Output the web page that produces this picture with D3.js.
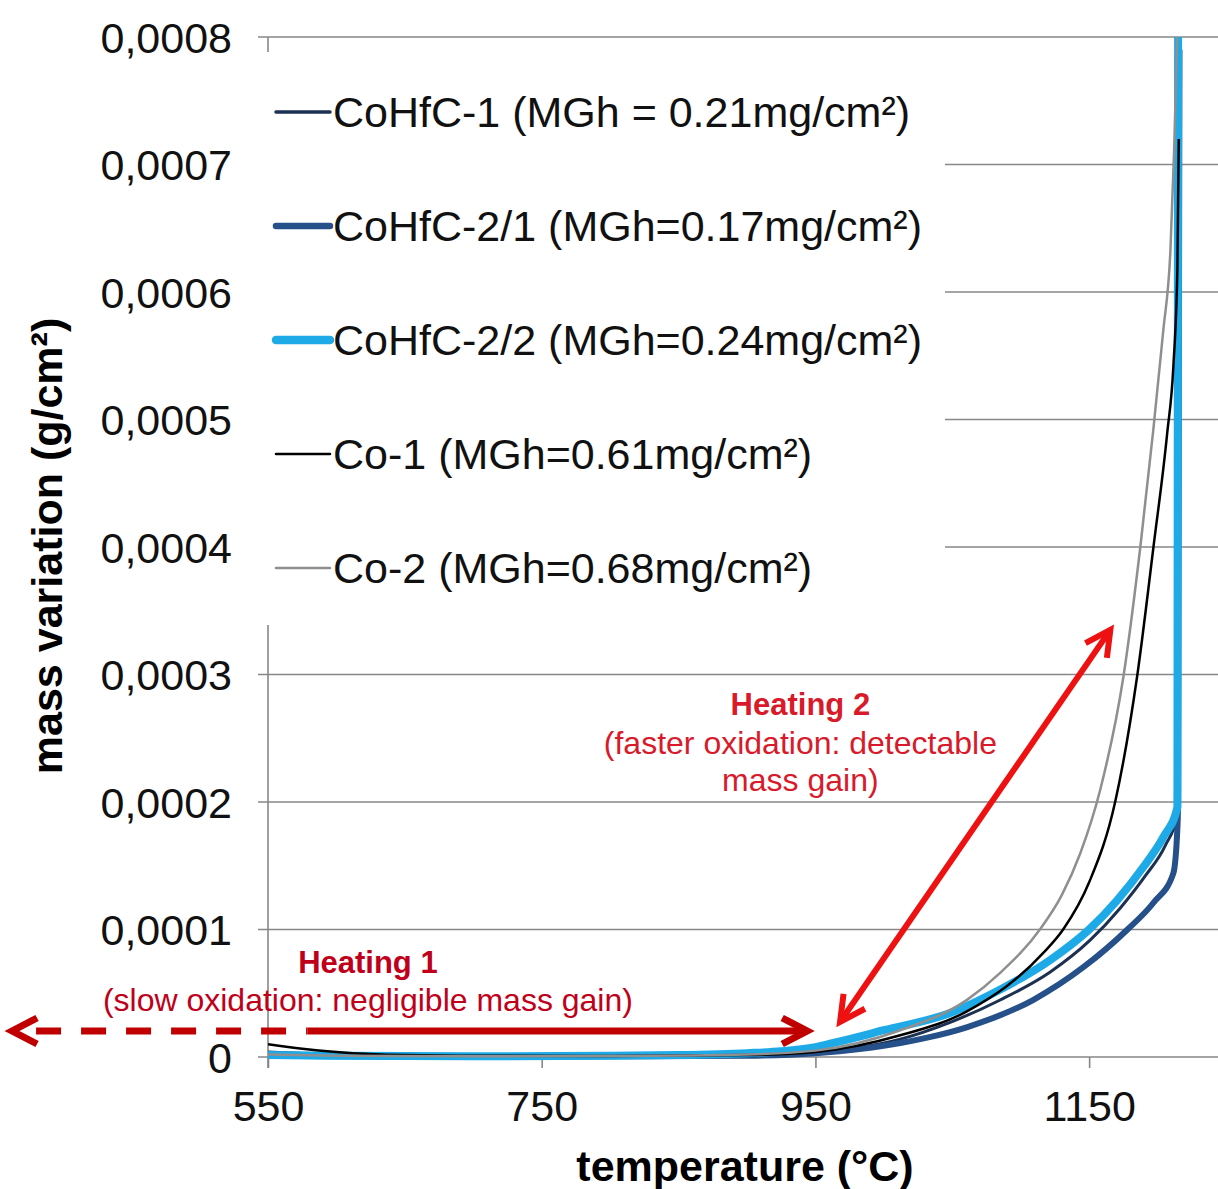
<!DOCTYPE html>
<html>
<head>
<meta charset="utf-8">
<script src="https://cdn.jsdelivr.net/npm/d3@7"></script>
<style>
  body { margin: 0; background: #fff; }
  svg { display: block; }
  text { font-family: "Liberation Sans", Arial, Helvetica, sans-serif; }
</style>
</head>
<body>
<svg id="chart" width="1218" height="1189"></svg>
<script>
// ---- data: mass variation (g/cm²) vs temperature (°C) ----
const seriesNames = [
  "CoHfC-1 (MGh = 0.21mg/cm²)",
  "CoHfC-2/1 (MGh=0.17mg/cm²)",
  "CoHfC-2/2 (MGh=0.24mg/cm²)",
  "Co-1 (MGh=0.61mg/cm²)",
  "Co-2 (MGh=0.68mg/cm²)"
];

const coHfC1Temp = [550, 600, 700, 800, 900, 950, 1012, 1048, 1085, 1121.6, 1150.9, 1172.8, 1191, 1205.7, 1214.5, 1215.5];
const coHfC1Mass = [0.000004, 0.000002, 0.000001, 0.0000008, 0.0000015, 0.000004, 0.000014, 0.000027, 0.0000447, 0.0000667, 0.0000918, 0.0001169, 0.000142, 0.000166, 0.00019, 0.00069];

const coHfC21Temp = [550, 600, 700, 800, 900, 950, 1012, 1061, 1109, 1146, 1178, 1197, 1211.5, 1214.5, 1215, 1216];
const coHfC21Mass = [0.000001, 0.0000005, 0.0000002, 0.0000005, 0.000001, 0.000003, 0.000011, 0.0000235, 0.0000447, 0.0000706, 0.0001, 0.000121, 0.000144, 0.00018, 0.0002, 0.00079];

const coHfC22Temp = [550, 600, 700, 800, 850, 900, 925, 950, 963, 1000, 1048.5, 1085.1, 1121.6, 1150, 1170.6, 1189.6, 1204.2, 1214.5, 1215];
const coHfC22Mass = [0.0000015, 0.000001, 0.0000005, 0.000001, 0.0000015, 0.000003, 0.0000045, 0.0000078, 0.000011, 0.000021, 0.0000345, 0.0000529, 0.0000761, 0.0001, 0.0001231, 0.000149, 0.0001725, 0.000196, 0.0008];

const co1Temp = [550, 575, 600, 650, 700, 800, 900, 950, 1012, 1061, 1116.5, 1131, 1150, 1169, 1185, 1197, 1207, 1211.5, 1214.5, 1215.5];
const co1Mass = [0.00001, 0.0000065, 0.000004, 0.0000015, 0.000001, 0.0000008, 0.0000015, 0.000004, 0.000017, 0.000036, 0.0000816, 0.0001, 0.000137, 0.0002, 0.000298, 0.0004, 0.000489, 0.000541, 0.00062, 0.00072];

const co2Temp = [550, 600, 700, 800, 900, 950, 1012, 1061, 1085, 1114, 1130, 1143.6, 1158.2, 1175, 1187.4, 1196.9, 1204.2, 1209.4, 1212.1, 1214.3];
const co2Mass = [0.000002, 0.000001, 0.0000005, 0.0000008, 0.000002, 0.000005, 0.000021, 0.000045, 0.000066, 0.0001, 0.000127, 0.00016, 0.00021, 0.000298, 0.0004, 0.000492, 0.00057, 0.000633, 0.000711, 0.0008];

const xTickValues = [550, 750, 950, 1150];
const yTickValues = [0, 0.0001, 0.0002, 0.0003, 0.0004, 0.0005, 0.0006, 0.0007, 0.0008];
const yTickLabels = ["0", "0,0001", "0,0002", "0,0003", "0,0004", "0,0005", "0,0006", "0,0007", "0,0008"];

// ---- layout ----
const svg = d3.select("#chart");
const W = 1218, H = 1189;
const plot = { left: 268, top: 37, right: 1226, bottom: 1057 };

const x = d3.scaleLinear().domain([550, 1250]).range([plot.left, plot.right]);
const y = d3.scaleLinear().domain([0, 0.0008]).range([plot.bottom, plot.top]);

const styles = [
  { color: "#1c3052", width: 3,   legendWidth: 3.5 },
  { color: "#25508a", width: 6,   legendWidth: 6.5 },
  { color: "#1eaae6", width: 8,   legendWidth: 8.5 },
  { color: "#000000", width: 2.5, legendWidth: 2.5 },
  { color: "#8f8f8f", width: 2.5, legendWidth: 2.5 }
];

const series = [
  [coHfC1Temp, coHfC1Mass],
  [coHfC21Temp, coHfC21Mass],
  [coHfC22Temp, coHfC22Mass],
  [co1Temp, co1Mass],
  [co2Temp, co2Mass]
].map(([t, m], i) => ({
  name: seriesNames[i],
  style: styles[i],
  points: t.map((tv, j) => ({ t: tv, v: m[j] }))
}));

// ---- gridlines ----
const gridColor = "#878787";
svg.append("g").selectAll("line").data(yTickValues).join("line")
  .attr("x1", plot.left - 10).attr("x2", W)
  .attr("y1", d => y(d)).attr("y2", d => y(d))
  .attr("stroke", gridColor).attr("stroke-width", 1.6);

// ---- y axis ----
const yAxis = d3.axisLeft(y)
  .tickValues(yTickValues)
  .tickFormat((d, i) => yTickLabels[i])
  .tickSize(0)
  .tickPadding(36);
const yAxisG = svg.append("g").attr("transform", `translate(${plot.left},0)`).call(yAxis);
yAxisG.select(".domain").remove();
yAxisG.selectAll("text")
  .attr("font-size", 43).attr("fill", "#111")
  .attr("dy", null).attr("dominant-baseline", "central");
svg.append("line")
  .attr("x1", plot.left).attr("x2", plot.left)
  .attr("y1", plot.top).attr("y2", plot.bottom + 11)
  .attr("stroke", gridColor).attr("stroke-width", 1.6);

// ---- x axis ----
const xAxis = d3.axisBottom(x)
  .tickValues(xTickValues)
  .tickFormat(d3.format("d"))
  .tickSizeInner(11).tickSizeOuter(0)
  .tickPadding(22);
const xAxisG = svg.append("g").attr("transform", `translate(0,${plot.bottom})`).call(xAxis);
xAxisG.select(".domain").remove();
xAxisG.selectAll(".tick line").attr("stroke", gridColor).attr("stroke-width", 1.6);
xAxisG.selectAll("text").attr("font-size", 43).attr("fill", "#111");

// ---- axis titles ----
svg.append("text")
  .attr("transform", `translate(62,546) rotate(-90)`)
  .attr("text-anchor", "middle")
  .attr("font-size", 43).attr("font-weight", "bold").attr("fill", "#000")
  .text("mass variation (g/cm²)");

svg.append("text")
  .attr("x", 745).attr("y", 1181)
  .attr("text-anchor", "middle")
  .attr("font-size", 43).attr("font-weight", "bold").attr("fill", "#000")
  .text("temperature (°C)");

// ---- legend ----
const legend = svg.append("g");
legend.append("rect")
  .attr("x", 245).attr("y", 52).attr("width", 700).attr("height", 573)
  .attr("fill", "#fff");
const legendItems = legend.selectAll("g.item").data(series).join("g")
  .attr("class", "item")
  .attr("transform", (d, i) => `translate(0,${112 + i * 114})`);
legendItems.append("line")
  .attr("x1", 276).attr("x2", 330).attr("y1", 0).attr("y2", 0)
  .attr("stroke", d => d.style.color)
  .attr("stroke-width", d => d.style.legendWidth)
  .attr("stroke-linecap", "round");
legendItems.append("text")
  .attr("x", 333).attr("y", 0)
  .attr("dominant-baseline", "central")
  .attr("font-size", 43).attr("fill", "#111")
  .text(d => d.name);

// ---- curves ----
svg.append("clipPath").attr("id", "plotClip")
  .append("rect")
  .attr("x", plot.left).attr("y", plot.top - 2)
  .attr("width", W - plot.left).attr("height", plot.bottom - plot.top + 10);

const line = d3.line()
  .x(d => x(d.t))
  .y(d => y(d.v))
  .curve(d3.curveMonotoneX);

svg.append("g").attr("clip-path", "url(#plotClip)")
  .selectAll("path").data(series).join("path")
  .attr("d", d => line(d.points))
  .attr("fill", "none")
  .attr("stroke", d => d.style.color)
  .attr("stroke-width", d => d.style.width)
  .attr("stroke-linejoin", "round");

// ---- annotations ----
function chevron(g, tip, from, color, width) {
  const dx = tip[0] - from[0], dy = tip[1] - from[1];
  const len = Math.hypot(dx, dy);
  const ux = dx / len, uy = dy / len;
  const bx = tip[0] - 25 * ux, by = tip[1] - 25 * uy;
  const px = -uy * 13, py = ux * 13;
  g.append("polyline")
    .attr("points", `${bx + px},${by + py} ${tip[0]},${tip[1]} ${bx - px},${by - py}`)
    .attr("fill", "none").attr("stroke", color).attr("stroke-width", width)
    .attr("stroke-linejoin", "miter").attr("stroke-linecap", "butt");
}

const ann = svg.append("g");

// Heating 1: dashed outside the measured range, solid inside
const h1Color = "#c00000";
const h1Level = 0.0000204;
const h1Left = [x(363), y(h1Level)];
const h1Mid = [x(579), y(h1Level)];
const h1Right = [x(944), y(h1Level)];
ann.append("line")
  .attr("x1", h1Left[0] + 24).attr("x2", h1Mid[0]).attr("y1", h1Left[1]).attr("y2", h1Mid[1])
  .attr("stroke", h1Color).attr("stroke-width", 7).attr("stroke-dasharray", "25 20");
ann.append("line")
  .attr("x1", h1Mid[0]).attr("x2", h1Right[0] - 3).attr("y1", h1Mid[1]).attr("y2", h1Right[1])
  .attr("stroke", h1Color).attr("stroke-width", 7);
chevron(ann, h1Right, h1Left, h1Color, 7);
chevron(ann, h1Left, h1Right, h1Color, 7);

ann.append("text")
  .attr("x", x(623)).attr("y", y(0.0000659))
  .attr("text-anchor", "middle").attr("font-size", 31).attr("font-weight", "bold")
  .attr("fill", "#c0001a").text("Heating 1");
ann.append("text")
  .attr("x", x(623)).attr("y", y(0.0000361))
  .attr("text-anchor", "middle").attr("font-size", 32)
  .attr("fill", "#c0001a").text("(slow oxidation: negligible mass gain)");

// Heating 2: double-headed arrow along the fast-oxidation region
const h2Color = "#ee1111";
const h2A = [x(968), y(0.0000275)];
const h2B = [x(1165.5), y(0.000335)];
ann.append("line")
  .attr("x1", h2A[0]).attr("y1", h2A[1]).attr("x2", h2B[0]).attr("y2", h2B[1])
  .attr("stroke", h2Color).attr("stroke-width", 6);
chevron(ann, h2A, h2B, h2Color, 6);
chevron(ann, h2B, h2A, h2Color, 6);

const h2Text = ["(faster oxidation: detectable", "mass gain)"];
ann.append("text")
  .attr("x", x(939)).attr("y", y(0.000268))
  .attr("text-anchor", "middle").attr("font-size", 31).attr("font-weight", "bold")
  .attr("fill", "#d81a2a").text("Heating 2");
ann.selectAll("text.h2").data(h2Text).join("text")
  .attr("class", "h2")
  .attr("x", x(939)).attr("y", (d, i) => y(0.000238) + i * 37)
  .attr("text-anchor", "middle").attr("font-size", 32)
  .attr("fill", "#d81a2a").text(d => d);
</script>
</body>
</html>
